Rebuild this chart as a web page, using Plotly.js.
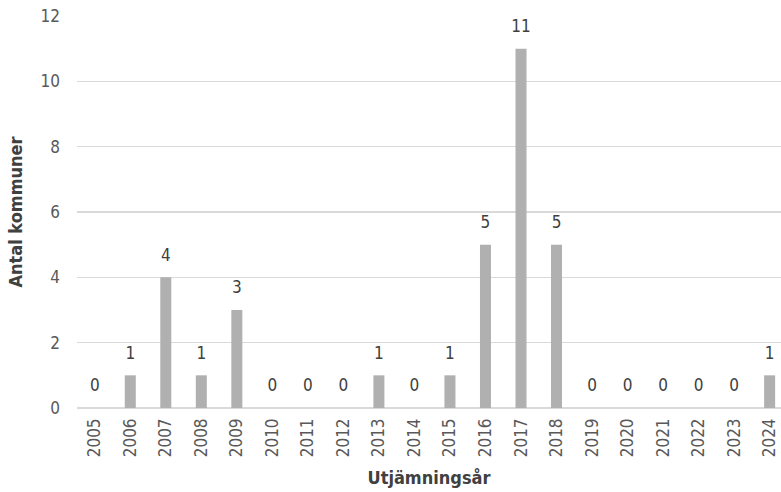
<!DOCTYPE html>
<html>
<head>
<meta charset="utf-8">
<script src="https://cdn.plot.ly/plotly-3.0.1.min.js"></script>
<style>html,body{margin:0;padding:0;background:#fff;}#chart{width:781px;height:492px;}</style>
</head>
<body>
<div id="chart"></div>
<script>
const years = ["2005","2006","2007","2008","2009","2010","2011","2012","2013","2014","2015","2016","2017","2018","2019","2020","2021","2022","2023","2024"];
const counts = [0,1,4,1,3,0,0,0,1,0,1,5,11,5,0,0,0,0,0,1];
const yTicks = [0,2,4,6,8,10,12];

const FONT = "DejaVu Sans Condensed, Liberation Sans Narrow, sans-serif";
const Y_RANGE = [0, 12];
const LABEL_SHIFT = 0.64; // label offset above bar, in value units

const bars = {
  type: 'bar',
  x: years,
  y: counts,
  width: 0.31,
  marker: {color: '#b0b0b0'},
  hoverinfo: 'skip'
};

const labels = {
  type: 'scatter',
  mode: 'text',
  x: years,
  y: counts,
  yaxis: 'y2',
  text: counts.map(String),
  textposition: 'middle center',
  textfont: {family: FONT, size: 17, color: '#404040'},
  hoverinfo: 'skip',
  cliponaxis: false
};

const layout = {
  width: 781, height: 492,
  margin: {l: 77, r: 0, t: 16, b: 84},
  paper_bgcolor: '#ffffff', plot_bgcolor: '#ffffff',
  showlegend: false,
  xaxis: {
    type: 'category',
    range: [-0.5, 19.32],
    tickangle: -90,
    tickfont: {family: FONT, size: 17, color: '#595959'},
    showgrid: false, zeroline: false,
    showline: false, ticks: '',
    ticklabelstandoff: 6,
    title: {text: 'Utjämningsår', font: {family: FONT, size: 18, color: '#404040', weight: 'bold'}, standoff: 15}
  },
  yaxis: {
    range: Y_RANGE,
    tickvals: yTicks,
    tickfont: {family: FONT, size: 17, color: '#595959'},
    showgrid: true, gridcolor: '#d9d9d9', gridwidth: 1.5,
    zeroline: true, zerolinecolor: '#d9d9d9', zerolinewidth: 1.5,
    showline: false, ticks: '',
    ticklabelstandoff: 16,
    title: {text: 'Antal kommuner', font: {family: FONT, size: 18, color: '#404040', weight: 'bold'}, standoff: 13}
  },
  yaxis2: {
    overlaying: 'y',
    range: [Y_RANGE[0] - LABEL_SHIFT, Y_RANGE[1] - LABEL_SHIFT],
    visible: false,
    showgrid: false, zeroline: false
  }
};

Plotly.newPlot('chart', [bars, labels], layout, {displayModeBar: false, staticPlot: true});
</script>
</body>
</html>
